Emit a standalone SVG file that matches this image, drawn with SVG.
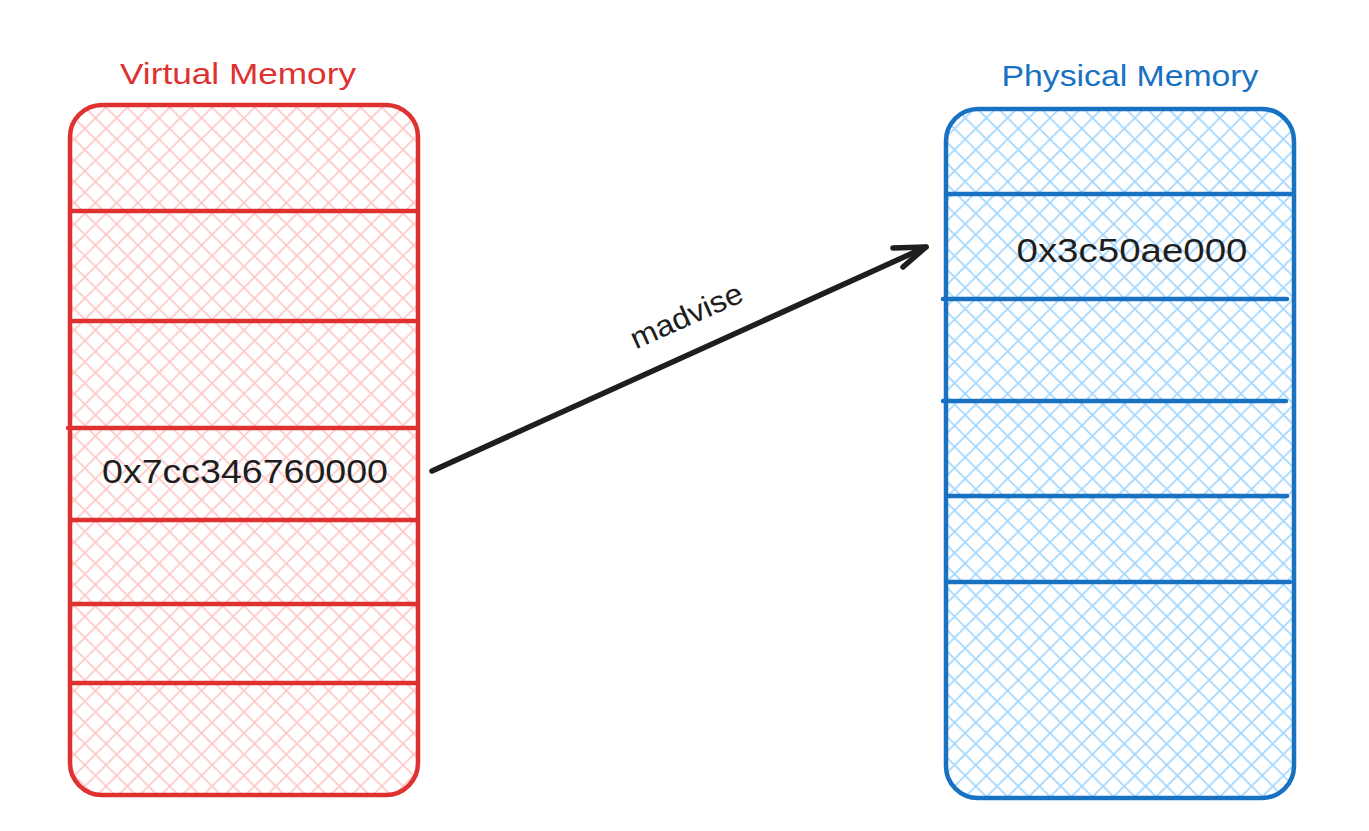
<svg xmlns="http://www.w3.org/2000/svg" width="1369" height="831" viewBox="0 0 1369 831">
<style>
.title{font-family:"Liberation Sans","DejaVu Sans",sans-serif;font-size:29px}
.val{font-family:"Liberation Sans","DejaVu Sans",sans-serif;font-size:34px;fill:#1e1e1e}
.red{stroke:#e03131;stroke-width:4.5;fill:none;stroke-linecap:round}
.blue{stroke:#1971c2;stroke-width:4.5;fill:none;stroke-linecap:round}
.conn{stroke:#1e1e1e;stroke-width:5.5;fill:none;stroke-linecap:round;stroke-linejoin:round}
</style>
<defs>
<pattern id="hr" patternUnits="userSpaceOnUse" width="15" height="15" patternTransform="rotate(45)">
<path d="M0 0V15M0 0H15" stroke="#ffc9c9" stroke-width="3.5"/>
</pattern>
<pattern id="hb" patternUnits="userSpaceOnUse" width="15" height="15" patternTransform="rotate(45)">
<path d="M0 0V15M0 0H15" stroke="#a5d8ff" stroke-width="3.5"/>
</pattern>
</defs>
<rect width="1369" height="831" fill="#ffffff"/>
<g id="virtual-memory">
<text class="title" x="238" y="84" text-anchor="middle" fill="#e03131" textLength="236" lengthAdjust="spacingAndGlyphs">Virtual Memory</text>
<rect x="70" y="105" width="348" height="690" rx="32" fill="url(#hr)"/>
<rect class="red" x="70" y="105" width="348" height="690" rx="32"/>
<path class="red" d="M70 211H416M70 321H416M68 428H416M70 520H416M70 604H416M70 683H418"/>
<text class="val" x="245" y="483" text-anchor="middle" textLength="286" lengthAdjust="spacingAndGlyphs">0x7cc346760000</text>
</g>
<g id="physical-memory">
<text class="title" x="1130" y="86" text-anchor="middle" fill="#1971c2" textLength="257" lengthAdjust="spacingAndGlyphs">Physical Memory</text>
<rect x="946" y="109" width="348" height="689" rx="32" fill="url(#hb)"/>
<rect class="blue" x="946" y="109" width="348" height="689" rx="32"/>
<path class="blue" d="M946 194H1291M943 299H1287M943 401H1286M946 496H1287M946 582H1290"/>
<text class="val" x="1132" y="262" text-anchor="middle" textLength="231" lengthAdjust="spacingAndGlyphs">0x3c50ae000</text>
</g>
<g id="connectors">
<path class="conn" d="M432 471L926 247"/>
<path class="conn" d="M893 248L926 247L903 267"/>
<text x="686" y="326" text-anchor="middle" transform="rotate(-24 686 315)" font-family="Liberation Sans, DejaVu Sans, sans-serif" font-size="30" fill="#1e1e1e" textLength="120" lengthAdjust="spacingAndGlyphs">madvise</text>
</g>
</svg>
